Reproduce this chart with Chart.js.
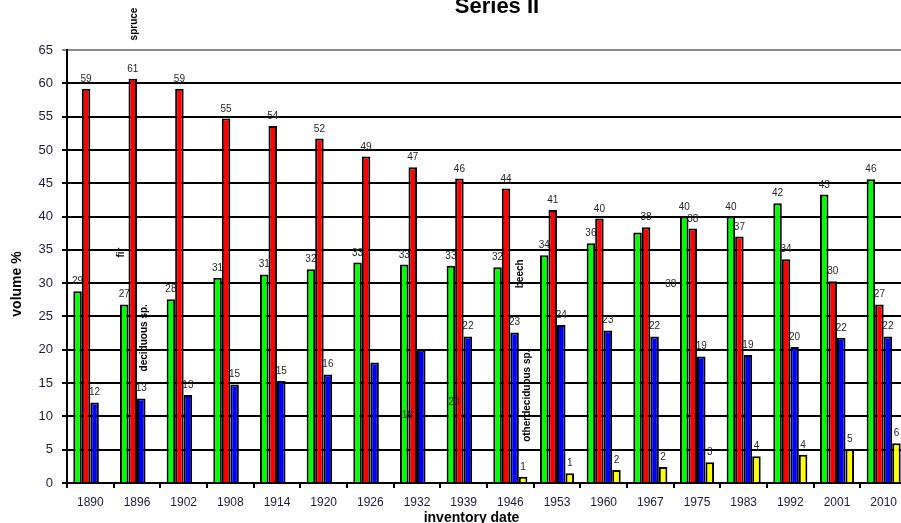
<!DOCTYPE html>
<html>
<head>
<meta charset="utf-8">
<script src="https://cdn.jsdelivr.net/npm/chart.js@4/dist/chart.umd.min.js"></script>
<style>
  html, body { margin: 0; padding: 0; overflow: hidden; background: #fff; }
  #wrap { position: relative; width: 920px; height: 523px; }
</style>
</head>
<body>
<div id="wrap"><canvas id="c"></canvas></div>
<script>
// inventory dates
const years = ['1890','1896','1902','1908','1914','1920','1926','1932','1939','1946',
               '1953','1960','1967','1975','1983','1992','2001','2010'];

// volume shares in percent, one list per tree group
const beech = [28.8, 26.8, 27.6, 30.8, 31.3, 32.1, 33.1, 32.8, 32.6, 32.4,
               34.2, 36.0, 37.6, 40.0, 40.0, 42.0, 43.3, 45.6];
const spruce = [59.2, 60.7, 59.2, 54.7, 53.6, 51.7, 49.0, 47.4, 45.7, 44.2,
                41.0, 39.7, 38.4, 38.2, 37.0, 33.6, 30.3, 26.8];
const deciduous = [12.1, 12.7, 13.2, 14.8, 15.3, 16.3, 18.1, 20.0, 22.0, 22.6,
                   23.7, 22.9, 22.0, 19.0, 19.2, 20.4, 21.8, 22.0];
const otherDeciduous = [null, null, null, null, null, null, null, null, null, 0.95,
                        1.45, 1.95, 2.4, 3.1, 4.0, 4.25, 5.05, 5.95];

// value axis
const yMin = 0, yMax = 65, yStep = 5;

const FONT = '"Liberation Sans", Arial, sans-serif';
const TICK_COLOR = '#1c1c3a';

// value labels that sit away from their bar: "series-point" -> [category position, value]
const shiftedLabels = {
  '0-12': [12.44, 29.4],
  '2-6':  [6.79, 9.7],
  '2-7':  [7.79, 11.7]
};

// series names written sideways: [category position of baseline, value of text centre]
const seriesNotes = [
  { text: 'spruce',             at: [1.00, 68.9] },
  { text: 'fir',                at: [0.73, 34.6] },
  { text: 'deciduous sp.',      at: [1.215, 21.8] },
  { text: 'beech',              at: [9.27, 31.4] },
  { text: 'otherdeciduous sp.', at: [9.42, 13.1] }
];

function drawValueLabels(chart, meta, dsIndex) {
  const ctx = chart.ctx;
  const xs = chart.scales.x, ys = chart.scales.y;
  const data = chart.data.datasets[dsIndex].data;
  ctx.save();
  ctx.font = '10px ' + FONT;
  ctx.fillStyle = '#262626';
  ctx.textAlign = 'center';
  ctx.textBaseline = 'alphabetic';
  meta.data.forEach((bar, i) => {
    const v = data[i];
    if (v === null || v === undefined) return;
    const moved = shiftedLabels[dsIndex + '-' + i];
    let x, y;
    if (moved) {
      x = xs.getPixelForValue(moved[0]);
      y = ys.getPixelForValue(moved[1]);
    } else {
      x = bar.x;
      y = bar.y - 7;
    }
    ctx.fillText(String(Math.round(v)), x, y);
  });
  ctx.restore();
}

const drawPlugin = {
  id: 'seriesDrawing',
  // bars and their labels are painted series by series, left to right
  beforeDatasetsDraw(chart) {
    chart.data.datasets.forEach((ds, i) => {
      const meta = chart.getDatasetMeta(i);
      meta.controller.draw();
      drawValueLabels(chart, meta, i);
    });
    return false;
  },
  afterDraw(chart) {
    const ctx = chart.ctx;
    const xs = chart.scales.x, ys = chart.scales.y;
    ctx.save();
    ctx.fillStyle = '#000';
    // chart title
    ctx.font = 'bold 22px ' + FONT;
    ctx.textAlign = 'center';
    ctx.textBaseline = 'alphabetic';
    ctx.fillText('Series II', 497, 12.5);
    // x axis title
    ctx.font = 'bold 14px ' + FONT;
    ctx.fillText('inventory date', 471.5, 522);
    // y axis title
    ctx.save();
    ctx.translate(20.7, 284);
    ctx.rotate(-Math.PI / 2);
    ctx.fillText('volume %', 0, 0);
    ctx.restore();
    // series names
    ctx.font = 'bold 10px ' + FONT;
    seriesNotes.forEach(n => {
      ctx.save();
      ctx.translate(xs.getPixelForValue(n.at[0]), ys.getPixelForValue(n.at[1]));
      ctx.rotate(-Math.PI / 2);
      ctx.fillText(n.text, 0, 0);
      ctx.restore();
    });
    ctx.restore();
  }
};

const barStyle = { borderColor: '#000', borderWidth: 2, categoryPercentage: 0.73, barPercentage: 1.0 };

new Chart(document.getElementById('c'), {
  type: 'bar',
  data: {
    labels: years,
    datasets: [
      Object.assign({ label: 'beech', data: beech, backgroundColor: '#00ff00' }, barStyle),
      Object.assign({ label: 'spruce', data: spruce, backgroundColor: '#ff0000' }, barStyle),
      Object.assign({ label: 'deciduous sp.', data: deciduous, backgroundColor: '#0000ff' }, barStyle),
      Object.assign({ label: 'otherdeciduous sp.', data: otherDeciduous, backgroundColor: '#ffff00' }, barStyle)
    ]
  },
  options: {
    responsive: true,
    maintainAspectRatio: false,
    animation: false,
    layout: { padding: { top: 50, right: 13, left: 0, bottom: 0 } },
    plugins: { legend: { display: false }, tooltip: { enabled: false }, title: { display: false } },
    scales: {
      x: {
        grid: { drawOnChartArea: false, drawTicks: true, tickLength: 5, color: '#000', lineWidth: 2, offset: true },
        border: { color: '#000', width: 2 },
        ticks: { color: TICK_COLOR, font: { family: FONT, size: 12 }, padding: 7, maxRotation: 0, autoSkip: false },
        afterFit(s) { s.height = 40; }
      },
      y: {
        min: yMin, max: yMax,
        ticks: { stepSize: yStep, color: TICK_COLOR, font: { family: FONT, size: 13 }, padding: 9 },
        grid: {
          color: c => (c.tick && c.tick.value === yMax) ? '#8a8a8a' : '#000',
          lineWidth: 2, tickLength: 5
        },
        border: { color: '#000', width: 2 },
        afterFit(s) { s.width = 67; }
      }
    }
  },
  plugins: [drawPlugin]
});
</script>
</body>
</html>
